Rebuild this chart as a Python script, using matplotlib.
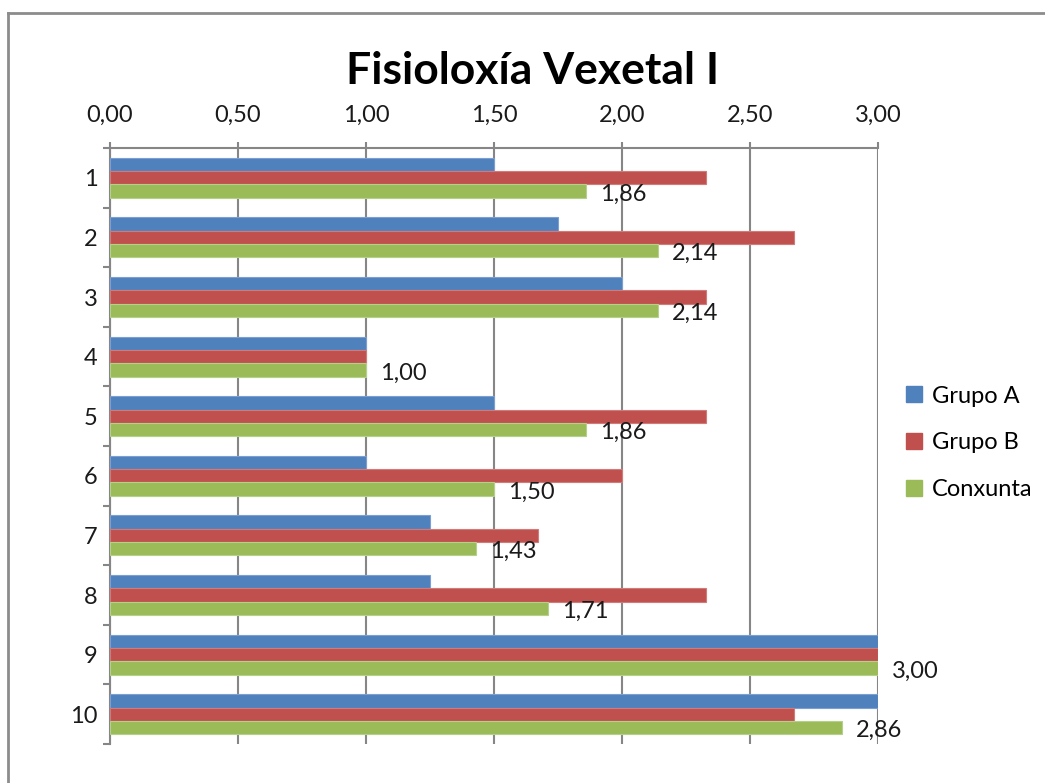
import matplotlib
matplotlib.use("Agg")
import matplotlib.pyplot as plt
import numpy as np
from matplotlib.lines import Line2D

categories = ["1", "2", "3", "4", "5", "6", "7", "8", "9", "10"]
grupo_a = [1.50, 1.75, 2.00, 1.00, 1.50, 1.00, 1.25, 1.25, 3.00, 3.00]
grupo_b = [2.33, 2.67, 2.33, 1.00, 2.33, 2.00, 1.67, 2.33, 3.00, 2.67]
conxunta = [1.86, 2.14, 2.14, 1.00, 1.86, 1.50, 1.43, 1.71, 3.00, 2.86]
series_names = ["Grupo A", "Grupo B", "Conxunta"]
colors = ["#4F81BD", "#C0504D", "#9BBB59"]
edge_colors = ["#7A9FD0", "#D07B79", "#B5D08A"]
xticks = [0, 0.5, 1.0, 1.5, 2.0, 2.5, 3.0]
title = "Fisioloxía Vexetal I"

plt.rcParams['font.family'] = ['Lato', 'DejaVu Sans']

fig = plt.figure(figsize=(10.45, 7.83), dpi=100)
ax = fig.add_axes([110/1045, 1-744/783, (878-110)/1045, (744-148)/783])

n = len(categories)
y = np.arange(n)
h = 0.223
data = [grupo_a, grupo_b, conxunta]
for i, (vals, c, ec, name) in enumerate(zip(data, colors, edge_colors, series_names)):
    ax.barh(y + (i - 1) * h, vals, height=h, color=c, edgecolor=ec, linewidth=0.8,
            label=name, zorder=3)

for yi, v in zip(y, conxunta):
    ax.text(v + 0.055, yi + h + 0.05, f"{v:.2f}".replace(".", ","), va="center", ha="left",
            fontsize=17, color="#1a1a1a", zorder=4)

ax.set_xlim(0, 3.0)
ax.set_ylim(n - 0.5, -0.5)
ax.xaxis.tick_top()
ax.set_xticks(xticks)
ax.set_xticklabels([f"{t:.2f}".replace(".", ",") for t in xticks], fontsize=17, color="#1a1a1a")
ax.tick_params(axis="x", length=4, width=1.5, color="#868686", pad=12)
ax.grid(axis="x", color="#868686", linewidth=1.5, zorder=1)

ax.set_yticks(y)
ax.set_yticklabels(categories, fontsize=17, color="#1a1a1a")
ax.tick_params(axis="y", length=0, pad=9)
ax.set_yticks(np.arange(n + 1) - 0.5, minor=True)
ax.tick_params(axis="y", which="minor", length=5, width=1.5, color="#868686")

for s in ["right", "bottom"]:
    ax.spines[s].set_visible(False)
for s in ["top", "left"]:
    ax.spines[s].set_color("#868686")
    ax.spines[s].set_linewidth(1.5)

handles = [plt.Rectangle((0, 0), 1, 1, color=c) for c in colors]
fig.legend(handles, series_names, loc="center left", bbox_to_anchor=(885/1045, 1-443/783),
           frameon=False, fontsize=17, handlelength=0.65, handleheight=0.65,
           handletextpad=0.45, labelspacing=1.1)

fig.text(533/1045, 1-71/783, title, ha="center", va="center", fontsize=32,
         fontweight="bold", color="#000000")

fig.add_artist(Line2D([8/1045, 8/1045], [0, 1-13/783], color="#8c8c8c", linewidth=2,
                      transform=fig.transFigure))
fig.add_artist(Line2D([8/1045, 1], [1-13/783, 1-13/783], color="#8c8c8c", linewidth=2,
                      transform=fig.transFigure))

fig.savefig("out.png", dpi=100)
